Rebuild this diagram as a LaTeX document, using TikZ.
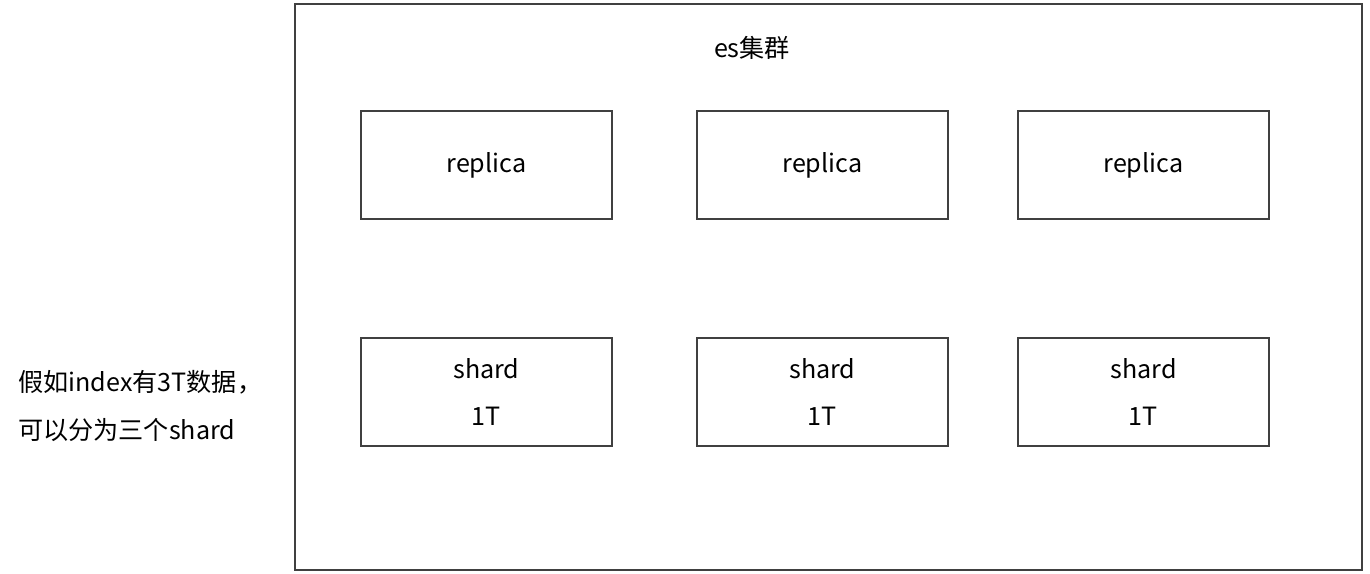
\documentclass[tikz,border=0pt]{standalone}
\usepackage{fontspec}
\setmainfont{Noto Sans CJK SC}
\usepackage{tikz}
\usetikzlibrary{positioning,calc}

\begin{document}
\begin{tikzpicture}[x=0.02cm,y=-0.02cm]
    \tikzstyle{cluster} = [
      draw=black!75,
      line width=1.1pt,
    ]
    \tikzstyle{box} = [
      draw=black!75,
      line width=1.1pt,
      anchor=north west,
      align=center,
      minimum width=5.02cm,
      minimum height=2.16cm,
      font=\fontsize{14.3}{26.5}\selectfont,
    ]
    \tikzstyle{note} = [
      anchor=west,
      align=left,
      font=\fontsize{14.3}{27}\selectfont,
    ]

    \useasboundingbox (0,0) rectangle (1370,574);

    % cluster
    {
      \draw[cluster] (295,4) rectangle (1362,570);
      \node[note, anchor=center] (clusterTitle) at (752,48) {es集群};
    }

    % replicas
    {
      \node[box] (replicaI)   at (360,110)  {replica};
      \node[box] (replicaII)  at (696,110)  {replica};
      \node[box] (replicaIII) at (1017,110) {replica};
    }

    % shards
    {
      \node[box] (shardI)   at (360,337)  {shard\\1T};
      \node[box] (shardII)  at (696,337)  {shard\\1T};
      \node[box] (shardIII) at (1017,337) {shard\\1T};
    }

    % note
    {
      \node[note, inner sep=0pt] (indexNote) at (18,406) {假如index有3T数据，\\可以分为三个shard};
    }
\end{tikzpicture}
\end{document}
